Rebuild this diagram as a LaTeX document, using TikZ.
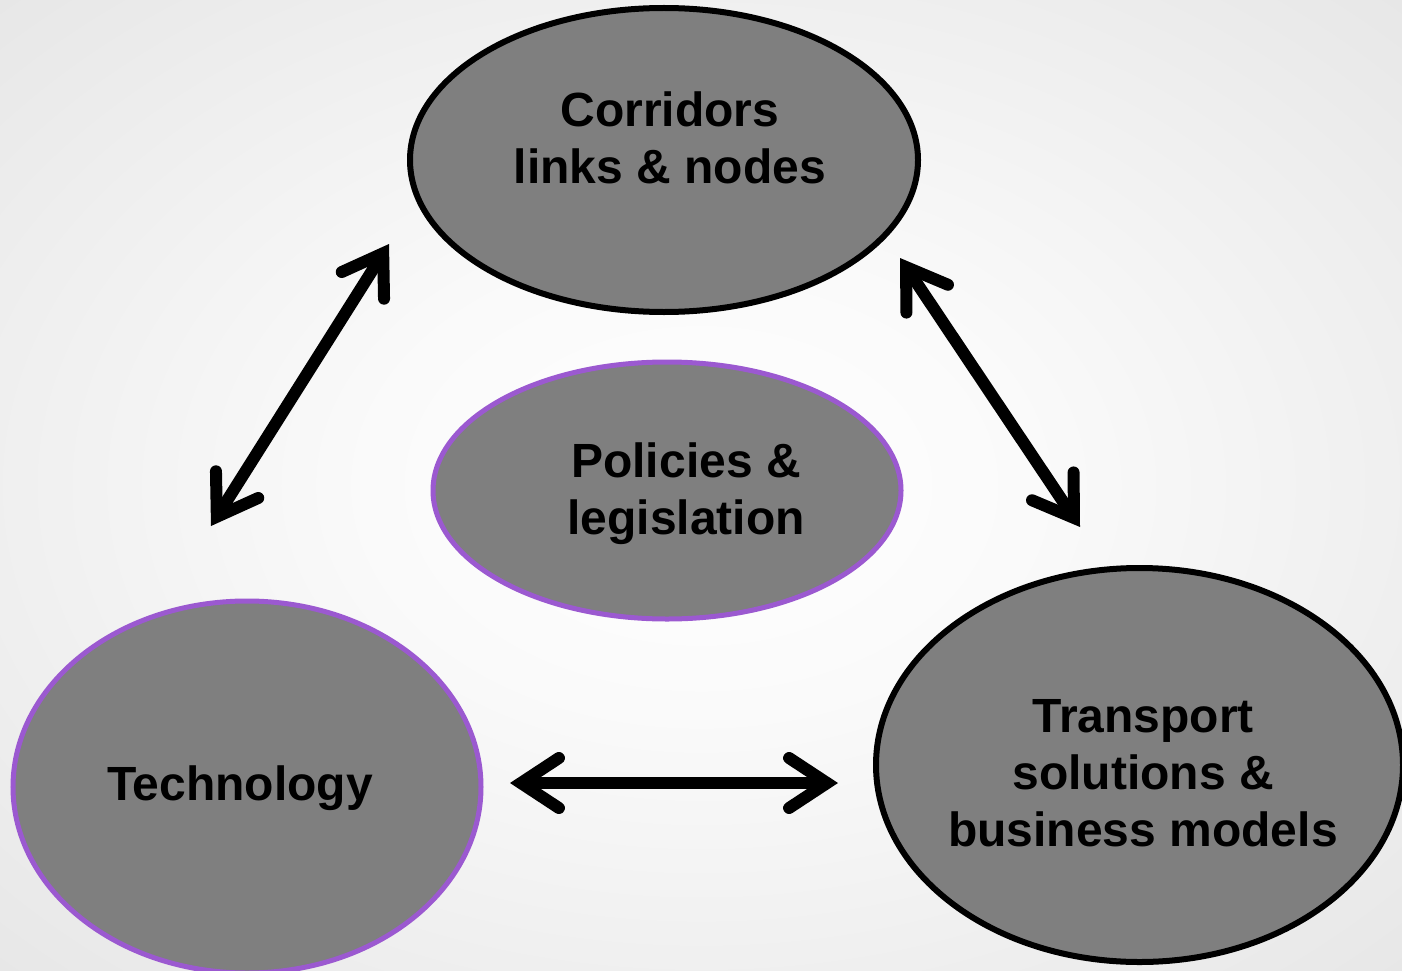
\documentclass[tikz,border=0pt]{standalone}
\usepackage{fontspec}
\setmainfont{Liberation Sans}
\usetikzlibrary{arrows.meta,shapes.geometric}
\pgfdeclareradialshading{bgshade}{\pgfpoint{0bp}{0bp}}{color(0bp)=(white);color(12bp)=(white!98!black);color(50bp)=(white!86!black);color(72bp)=(white!81!black)}
\definecolor{fillgray}{HTML}{7F7F7F}
\definecolor{lilac}{HTML}{9B59D0}
\tikzset{
  blob/.style={ellipse, fill=fillgray, inner sep=0pt},
  blackrim/.style={blob, draw=black, line width=6pt},
  purplerim/.style={blob, draw=lilac, line width=5pt},
  label text/.style={font=\fontsize{48}{57}\selectfont\bfseries, align=center, text=black, inner sep=0pt},
  link/.style={line width=12pt, {Straight Barb[length=38pt, width=50pt, line cap=round, line join=miter]}-{Straight Barb[length=38pt, width=50pt, line cap=round, line join=miter]}}
}
\begin{document}
\begin{tikzpicture}[x=1pt,y=-1pt]
\useasboundingbox (0,0) rectangle (1402,971);
\shade[shading=bgshade] (0,0) rectangle (1402,971);
\begin{scope}
\clip (0,0) rectangle (1402,971);
\node[blackrim, minimum width=508pt, minimum height=304pt] (top) at (664,160) {};
\node[purplerim, minimum width=468pt, minimum height=257pt] (mid) at (667,490.5) {};
\node[purplerim, minimum width=468pt, minimum height=372pt] (left) at (247,787) {};
\node[blackrim, minimum width=527pt, minimum height=394pt] (right) at (1139.5,765) {};
\end{scope}
\node[label text] (toptext) at (670,138) {Corridors\\links \& nodes};
\node[label text] (midtext) at (686,494) {Policies \&\\legislation};
\node[label text] (lefttext) at (240,788) {Technology};
\node[label text] (righttext) at (1143,773) {Transport\\solutions \&\\business models};
\coordinate (a1) at (211,526);
\coordinate (a2) at (389,244);
\coordinate (b1) at (900,258);
\coordinate (b2) at (1080,527);
\coordinate (c1) at (510,783);
\coordinate (c2) at (838,783);
\draw[link] (a1) -- (a2);
\draw[link] (b1) -- (b2);
\draw[link] (c1) -- (c2);
\end{tikzpicture}
\end{document}
